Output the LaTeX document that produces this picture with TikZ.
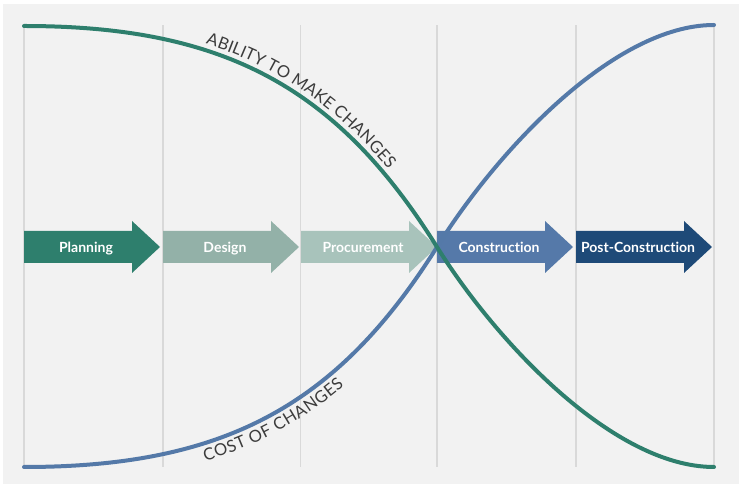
\documentclass[tikz,border=0pt]{standalone}
\usepackage{fontspec}
\setmainfont{Lato}[Ligatures=NoCommon]
\usetikzlibrary{decorations.text}

\definecolor{bggray}{HTML}{F2F2F2}
\definecolor{gridgray}{HTML}{D9D9D9}
\definecolor{abilitygreen}{HTML}{2E7F6D}
\definecolor{costblue}{HTML}{5479A8}
\definecolor{planfill}{HTML}{2E7F6D}
\definecolor{designfill}{HTML}{93B1A8}
\definecolor{procfill}{HTML}{A8C3BB}
\definecolor{constfill}{HTML}{5579A9}
\definecolor{postfill}{HTML}{1E4A78}
\definecolor{labelgray}{HTML}{3C3C3C}

% block arrow for one project phase: #1 = left edge, #2 = fill colour
\newcommand\phasearrow[2]{%
  \fill[#2] (#1,224) -- ++(108,0) -- ++(0,-10) -- ++(28,26)
    -- ++(-28,26) -- ++(0,-10) -- ++(-108,0) -- cycle;}
\newcommand\curvelabelfont{\fontsize{16.6}{16.6}\selectfont\color{labelgray}}

\begin{document}
\begin{tikzpicture}[x=1pt,y=1pt,
  gridline/.style={gridgray, line width=1.2pt},
  curve/.style={line width=4pt, line cap=round},
  phase/.style={text=white, font=\fontsize{14}{16}\selectfont\bfseries,
    inner sep=0pt, anchor=base},
]
\useasboundingbox (0,0) rectangle (742,487);
\fill[white] (0,0) rectangle (742,487);
\fill[bggray] (3,3) rectangle (739,483);

% phase boundaries
\foreach \x in {24,163,300.5,437,576,714}
  \draw[gridline] (\x,20) -- (\x,462);

% phases
\phasearrow{24}{planfill}
\phasearrow{163}{designfill}
\phasearrow{301}{procfill}
\phasearrow{437}{constfill}
\phasearrow{576}{postfill}
\node[phase] (planning)     at (86,234.7)  {Planning};
\node[phase] (design)       at (225,234.7) {Design};
\node[phase] (procurement)  at (363,234.7) {Procurement};
\node[phase] (construction) at (499,234.7) {Construction};
\node[phase] (postcons)     at (638,234.7) {Post-Construction};

% curves meeting at the start of construction
\coordinate (cross)  at (437,240);
\coordinate (gstart) at (24,461);
\coordinate (gend)   at (714,20);
\coordinate (bstart) at (24,20);
\coordinate (bend)   at (714,462);

\draw[curve, costblue] (bstart) .. controls (224,20) and (337,81) .. (cross)
  .. controls (497,336) and (614,462) .. (bend);
\draw[curve, abilitygreen] (gstart) .. controls (224,461) and (337,400) .. (cross)
  .. controls (497,144) and (614,20) .. (gend);

% curve labels
\path[decorate, decoration={text along path,
    text={|\curvelabelfont|ABILITY TO MAKE CHANGES},
    raise=6pt, text align={left indent=182pt}}]
  (gstart) .. controls (224,461) and (337,400) .. (cross);
\path[decorate, decoration={text along path,
    text={|\curvelabelfont|COST OF CHANGES},
    raise=-17.5pt, text align={left indent=178pt}}]
  (bstart) .. controls (224,20) and (337,81) .. (cross);
\end{tikzpicture}
\end{document}
